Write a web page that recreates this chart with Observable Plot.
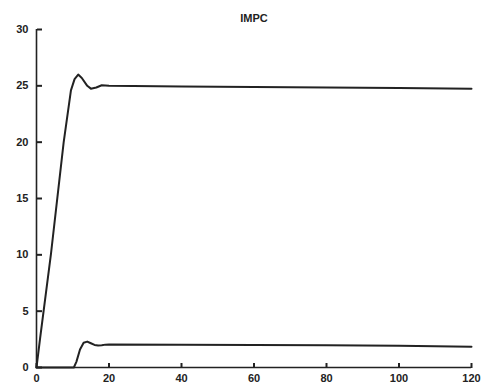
<!DOCTYPE html>
<html>
<head>
<meta charset="utf-8">
<script src="https://cdn.jsdelivr.net/npm/d3@7"></script>
<script src="https://cdn.jsdelivr.net/npm/@observablehq/plot@0.6"></script>
<style>
  html, body { margin: 0; padding: 0; background: #fff; }
  #chart svg { display: block; }
</style>
</head>
<body>
<div id="chart"></div>
<script>
const title = "IMPC";
const xTicks = [0, 20, 40, 60, 80, 100, 120];
const yTicks = [0, 5, 10, 15, 20, 25, 30];

// upper response
const upperX = [0, 1, 4, 7.5, 9.5, 10.5, 11.5, 12.5, 14, 15, 16.5, 18, 20, 40, 60, 80, 100, 120];
const upperY = [0, 2.6, 10.1, 20, 24.6, 25.6, 26, 25.7, 25.0, 24.75, 24.85, 25.05, 25.0, 24.95, 24.9, 24.85, 24.8, 24.75];

// lower response
const lowerX = [0, 10.3, 11, 12, 13, 14, 15, 16, 17, 18, 19, 20, 40, 60, 80, 100, 120];
const lowerY = [0, 0, 0.5, 1.6, 2.2, 2.3, 2.15, 2.0, 1.95, 1.97, 2.03, 2.05, 2.02, 2.0, 1.97, 1.92, 1.85];

const upper = upperX.map((x, i) => ({x, y: upperY[i]}));
const lower = lowerX.map((x, i) => ({x, y: lowerY[i]}));

const font = "'Liberation Sans', Arial, sans-serif";

const chart = Plot.plot({
  width: 485,
  height: 390,
  marginLeft: 36,
  marginRight: 14,
  marginTop: 29,
  marginBottom: 23,
  style: {fontFamily: font, fontSize: "11px", fontWeight: "bold", color: "#222", background: "#fff"},
  x: {domain: [0, 120]},
  y: {domain: [0, 30]},
  marks: [
    Plot.axisY({ticks: yTicks, tickSize: 0, tickPadding: 8, label: null}),
    Plot.axisX({ticks: xTicks, tickSize: 0, tickPadding: 7, label: null}),
    // inward ticks: right-side axis on the left edge / top-side axis on the bottom edge
    Plot.axisY({ticks: yTicks, anchor: "right", tickSize: 5, text: null, label: null, dx: -(485 - 36 - 14), stroke: "#222", strokeWidth: 2}),
    Plot.axisX({ticks: xTicks, anchor: "top", tickSize: 5, text: null, label: null, dy: 390 - 29 - 23, stroke: "#222", strokeWidth: 2}),
    Plot.ruleX([0], {stroke: "#222", strokeWidth: 1.6}),
    Plot.ruleY([0], {stroke: "#222", strokeWidth: 1.6}),
    Plot.line(upper, {x: "x", y: "y", stroke: "#222", strokeWidth: 2}),
    Plot.line(lower, {x: "x", y: "y", stroke: "#222", strokeWidth: 2}),
    Plot.text([title], {frameAnchor: "top", dy: -15, text: d => d, fontSize: 11, fontWeight: "bold", fill: "#222"})
  ]
});
document.getElementById("chart").appendChild(chart);
</script>
</body>
</html>
